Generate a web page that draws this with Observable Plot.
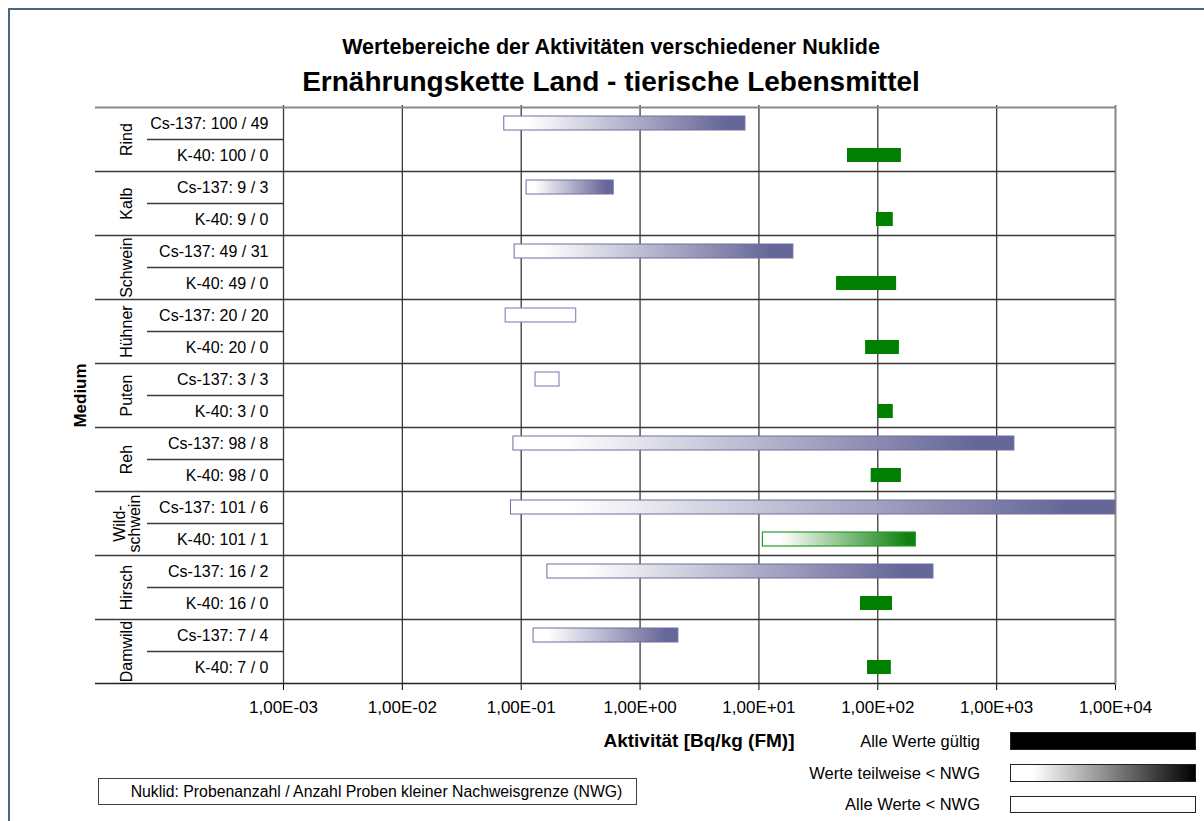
<!DOCTYPE html>
<html><head><meta charset="utf-8">
<script src="https://cdn.jsdelivr.net/npm/d3@7"></script>
<script src="https://cdn.jsdelivr.net/npm/@observablehq/plot@0.6"></script>
<style>
body{margin:0;background:#fff;font-family:"Liberation Sans",Arial,sans-serif;color:#000;}
#wrap{position:relative;width:1204px;height:821px;overflow:hidden;background:#fff;}
#frame{position:absolute;left:8px;top:8px;width:1300px;height:900px;border-left:2px solid #41697f;border-top:2px solid #41697f;}
.t1{position:absolute;left:0;width:1222px;top:34px;text-align:center;font-weight:bold;font-size:21.5px;line-height:26px;}
.t2{position:absolute;left:0;width:1222px;top:66px;text-align:center;font-weight:bold;font-size:28px;line-height:32px;}
#chart{position:absolute;left:0;top:100px;}
.xt{position:absolute;left:499px;width:400px;top:730px;text-align:center;font-weight:bold;font-size:19px;line-height:22px;}
.lg{position:absolute;right:224px;font-size:16.5px;line-height:18px;text-align:right;white-space:nowrap;}
.lb{position:absolute;left:1010px;width:186px;box-sizing:border-box;border:1px solid #222;}
.note{position:absolute;left:98px;top:778px;width:539px;height:27px;box-sizing:border-box;border:1px solid #404040;font-size:15.8px;line-height:25px;text-align:center;white-space:nowrap;padding-left:18px;}
</style></head>
<body>
<div id="wrap">
  <div id="frame"></div>
  <div class="t1">Wertebereiche der Aktivitäten verschiedener Nuklide</div>
  <div class="t2">Ernährungskette Land - tierische Lebensmittel</div>
  <div id="chart"></div>
  <div class="xt">Aktivität [Bq/kg (FM)]</div>
  <div class="lg" style="top:732px">Alle Werte gültig</div>
  <div class="lb" style="top:732px;height:18px;background:#000;"></div>
  <div class="lg" style="top:764px">Werte teilweise &lt; NWG</div>
  <div class="lb" style="top:764px;height:18px;background:linear-gradient(to right,#fff 0%,#fff 12%,#000 100%);"></div>
  <div class="lg" style="top:795px">Alle Werte &lt; NWG</div>
  <div class="lb" style="top:796px;height:17px;background:#fff;"></div>
  <div class="note">Nuklid: Probenanzahl / Anzahl Proben kleiner Nachweisgrenze (NWG)</div>
</div>
<script>
// ---- data ----
const groups = ["Rind","Kalb","Schwein","Hühner","Puten","Reh","Wildschwein","Hirsch","Damwild"];
const groupLabels = ["Rind","Kalb","Schwein","Hühner","Puten","Reh","Wild-\nschwein","Hirsch","Damwild"];
const csCounts = [[100,49],[9,3],[49,31],[20,20],[3,3],[98,8],[101,6],[16,2],[7,4]];
const kCounts  = [[100,0],[9,0],[49,0],[20,0],[3,0],[98,0],[101,1],[16,0],[7,0]];
const csMin = [0.072,0.111,0.088,0.074,0.132,0.086,0.082,0.166,0.127];
const csMax = [7.7,0.60,19.5,0.29,0.21,1410,10000,294,2.10];
const kMin  = [55.6,97.5,45,79,101,88,10.8,71.5,82];
const kMax  = [158,135,144,152,135,158,209,133,130];
const xTicks = [1e-3,1e-2,1e-1,1e0,1e1,1e2,1e3,1e4];

const status = ([n,b]) => b === 0 ? "valid" : (b === n ? "below" : "partial");
const rows = [];
groups.forEach((g,i) => {
  rows.push({key:g+"|Cs", group:g, glabel:groupLabels[i], nuclide:"Cs", label:`Cs-137: ${csCounts[i][0]} / ${csCounts[i][1]}`, min:csMin[i], max:csMax[i], status:status(csCounts[i])});
  rows.push({key:g+"|K", group:g, glabel:groupLabels[i], nuclide:"K", label:`K-40: ${kCounts[i][0]} / ${kCounts[i][1]}`, min:kMin[i], max:kMax[i], status:status(kCounts[i])});
});

const W = 1204, H = 630, mT = 5, mB = 45, mL = 283, mR = 89;
const rowH = (H - mT - mB) / rows.length;
const fmt = d => { const e = Math.round(Math.log10(d)); return "1,00E" + (e < 0 ? "-" : "+") + String(Math.abs(e)).padStart(2,"0"); };

function tableLines(index, scales, values, dims) {
  const y = scales.y, bw = y.bandwidth();
  const xl = dims.marginLeft, xr = dims.width - dims.marginRight;
  const g = d3.create("svg:g").attr("fill","none");
  rows.forEach((r,i) => {
    const y0 = Math.round(y(r.key)) + 0.5;
    if (r.nuclide === "Cs") {
      g.append("line").attr("x1", xl - 188).attr("x2", xr).attr("y1", y0).attr("y2", y0)
        .attr("stroke", i === 0 ? "#888" : "#3a3a3a").attr("stroke-width", i === 0 ? 2 : 1.3);
    } else {
      g.append("line").attr("x1", xl - 136).attr("x2", xl).attr("y1", y0).attr("y2", y0)
        .attr("stroke", "#3a3a3a").attr("stroke-width", 1.3);
    }
  });
  const yb = Math.round(y(rows[rows.length-1].key) + bw) + 0.5;
  g.append("line").attr("x1", xl - 188).attr("x2", xr).attr("y1", yb).attr("y2", yb).attr("stroke","#222").attr("stroke-width",1.3);
  return g.node();
}

const sel = (nuc, st) => rows.filter(r => r.nuclide === nuc && r.status === st);
const barOpts = {y:"key", x1:"min", x2:"max", insetTop:9, insetBottom:9};

const chart = Plot.plot({
  width: W, height: H,
  marginTop: mT, marginBottom: mB, marginLeft: mL, marginRight: mR,
  style: {fontFamily: "'Liberation Sans', Arial, sans-serif", fontSize: "17px", color: "#000", background: "transparent"},
  x: {type: "log", domain: [1e-3, 1e4], ticks: xTicks, tickFormat: fmt, tickSize: 5, tickPadding: 10, label: null},
  y: {domain: rows.map(r => r.key), padding: 0, axis: null},
  marks: [
    Plot.ruleX(xTicks, {stroke: (d) => d === 1e4 ? "#888" : "#3a3a3a", strokeWidth: (d) => d === 1e4 ? 2 : 1.3}),
    tableLines,
    Plot.barX(sel("Cs","partial"), {...barOpts, fill: "url(#gCs)", stroke: "#6e6ea0", strokeWidth: 1}),
    Plot.barX(sel("Cs","below"), {...barOpts, fill: "#fff", stroke: "#8c8cc0", strokeWidth: 1.2}),
    Plot.barX(sel("K","valid"), {...barOpts, fill: "#008000"}),
    Plot.barX(sel("K","partial"), {...barOpts, fill: "url(#gK)", stroke: "#2a9a2a", strokeWidth: 1.2}),
    Plot.text(rows, {y: "key", text: "label", frameAnchor: "left", textAnchor: "end", dx: -15, fontSize: 16}),
    Plot.text(rows.filter(r => r.nuclide === "Cs"), {y: "key", text: "glabel", frameAnchor: "left", dx: -156, dy: rowH/2, rotate: -90, textAnchor: "middle", fontSize: 16, lineHeight: 0.95}),
    Plot.text(["Medium"], {text: d => d, frameAnchor: "left", dx: -203, rotate: -90, textAnchor: "middle", fontSize: 17, fontWeight: "bold"})
  ]
});

const svg = d3.select(chart);
const defs = svg.insert("defs", ":first-child");
const gc = defs.append("linearGradient").attr("id","gCs").attr("x1","0").attr("x2","1").attr("y1","0").attr("y2","0");
gc.append("stop").attr("offset","0").attr("stop-color","#ffffff");
gc.append("stop").attr("offset","0.1").attr("stop-color","#ffffff");
gc.append("stop").attr("offset","0.92").attr("stop-color","#666699");
gc.append("stop").attr("offset","1").attr("stop-color","#666699");
const gk = defs.append("linearGradient").attr("id","gK").attr("x1","0").attr("x2","1").attr("y1","0").attr("y2","0");
gk.append("stop").attr("offset","0").attr("stop-color","#ffffff");
gk.append("stop").attr("offset","0.12").attr("stop-color","#ffffff");
gk.append("stop").attr("offset","0.95").attr("stop-color","#108010");
gk.append("stop").attr("offset","1").attr("stop-color","#108010");
document.getElementById("chart").appendChild(chart);
</script>
</body></html>
